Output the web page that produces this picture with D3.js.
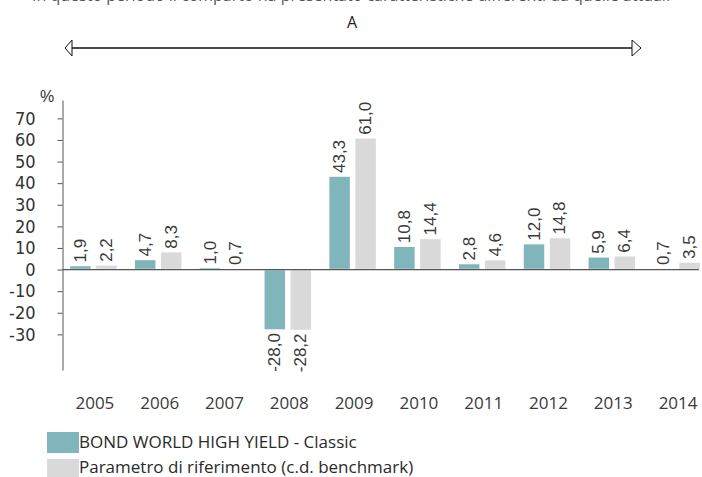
<!DOCTYPE html>
<html><head><meta charset="utf-8">
<script src="https://cdn.jsdelivr.net/npm/d3@7"></script>
<style>
html,body{margin:0;padding:0;background:#fff;}
svg{display:block;}
</style></head>
<body>
<svg id="chart" width="702" height="477"></svg>
<script>
const years = ["2005","2006","2007","2008","2009","2010","2011","2012","2013","2014"];
const fundValues = [1.9, 4.7, 1.0, -28.0, 43.3, 10.8, 2.8, 12.0, 5.9, 0.7];
const benchValues = [2.2, 8.3, 0.7, -28.2, 61.0, 14.4, 4.6, 14.8, 6.4, 3.5];
const seriesNames = ["BOND WORLD HIGH YIELD - Classic", "Parametro di riferimento (c.d. benchmark)"];
const seriesColors = ["#80b5bb", "#d9d9d9"];
const yTicks = [-30, -20, -10, 0, 10, 20, 30, 40, 50, 60, 70];
const periodLabel = "A";
const topNote = "In questo periodo il comparto ha presentato caratteristiche differenti da quelle attuali";

const svg = d3.select("#chart");
const labelFont = "'Liberation Sans', Arial, sans-serif";
const tickFont = "'Liberation Sans Narrow', 'Arial Narrow', 'DejaVu Sans Condensed', sans-serif";
const textFont = "'Open Sans', 'Noto Sans', sans-serif";

const x = d3.scaleBand().domain(years).range([61, 709]).paddingInner(0);
const xSub = d3.scaleBand().domain([0, 1]).range([-24, 24]).paddingInner(0.1538);
const y = d3.scaleLinear().domain([-46.5, 78.5]).range([370, 100]);

// top clipped note (cut off at the top edge as in the reference)
svg.append("text").attr("x", 351).attr("y", 1).attr("text-anchor", "middle")
  .attr("font-family", textFont).attr("font-size", 16).attr("fill", "#555").text(topNote);

// period label + arrow
svg.append("text").attr("x", 352).attr("y", 28).attr("text-anchor", "middle")
  .attr("font-family", textFont).attr("font-size", 16).attr("fill", "#222").text(periodLabel);
const ay = 48;
svg.append("line").attr("x1", 72).attr("x2", 632).attr("y1", ay).attr("y2", ay)
  .attr("stroke", "#111").attr("stroke-width", 1.5);
svg.append("path").attr("d", `M72,${ay-8} L65,${ay} L72,${ay+8} Z`)
  .attr("fill", "#fff").attr("stroke", "#111").attr("stroke-width", 1);
svg.append("path").attr("d", `M632,${ay-8} L641,${ay} L632,${ay+8} Z`)
  .attr("fill", "#fff").attr("stroke", "#111").attr("stroke-width", 1);

// bars
const data = years.map((yr, i) => ({year: yr, vals: [fundValues[i], benchValues[i]]}));
const groups = svg.append("g").selectAll("g").data(data).join("g")
  .attr("transform", d => `translate(${x(d.year) + x.bandwidth() / 2},0)`);
groups.selectAll("rect").data(d => d.vals.map((v, s) => ({v, s}))).join("rect")
  .attr("x", d => xSub(d.s))
  .attr("width", xSub.bandwidth())
  .attr("y", d => y(Math.max(0, d.v)))
  .attr("height", d => Math.abs(y(d.v) - y(0)))
  .attr("fill", d => seriesColors[d.s])
  .attr("stroke", "#fff").attr("stroke-width", 1.5);

// zero line
svg.append("line").attr("x1", 62.5).attr("x2", 699).attr("y1", y(0)).attr("y2", y(0))
  .attr("stroke", "#555").attr("stroke-width", 1.2);

// value labels
const fmt = v => v.toFixed(1).replace(".", ",");
groups.selectAll("text.val").data(d => d.vals.map((v, s) => ({v, s}))).join("text")
  .attr("class", "val")
  .attr("transform", d => {
    const cx = xSub(d.s) + xSub.bandwidth() / 2 + 5.5;
    const yy = d.v >= 0 ? y(d.v) - 3 : y(d.v) + 3;
    return `translate(${cx},${yy}) rotate(-90)`;
  })
  .attr("text-anchor", d => d.v >= 0 ? "start" : "end")
  .attr("font-family", labelFont).attr("font-size", 17).attr("fill", "#3a3a3a")
  .text(d => fmt(d.v));

// y axis
const yAxis = d3.axisLeft(y).tickValues(yTicks).tickSize(5).tickSizeOuter(0).tickFormat(d3.format("d"));
const gy = svg.append("g").attr("transform", "translate(62.5,0)").call(yAxis);
gy.select(".domain").attr("stroke", "#555");
gy.selectAll(".tick line").attr("stroke", "#555");
gy.selectAll(".tick text").attr("x", -27).attr("font-family", tickFont).attr("font-size", 18).attr("fill", "#333")
  .text(d => d < 0 ? "-" + Math.abs(d) : d);

svg.append("text").attr("x", 47).attr("y", 102).attr("text-anchor", "middle")
  .attr("font-family", labelFont).attr("font-size", 16).attr("fill", "#333").text("%");

// year labels
svg.append("g").selectAll("text").data(years).join("text")
  .attr("x", d => x(d) + x.bandwidth() / 2 + 1.5).attr("y", 409).attr("text-anchor", "middle")
  .attr("font-family", textFont).attr("font-size", 17).attr("fill", "#3a3a3a").text(d => d);

// legend
const lg = svg.append("g");
seriesNames.forEach((name, i) => {
  lg.append("rect").attr("x", 47).attr("y", 432 + i * 27).attr("width", 32).attr("height", 21)
    .attr("fill", seriesColors[i]);
  lg.append("text").attr("x", 79).attr("y", 448 + i * 25).attr("font-family", textFont)
    .attr("font-size", 17).attr("fill", "#2a2a2a").text(name);
});
</script>
</body></html>
